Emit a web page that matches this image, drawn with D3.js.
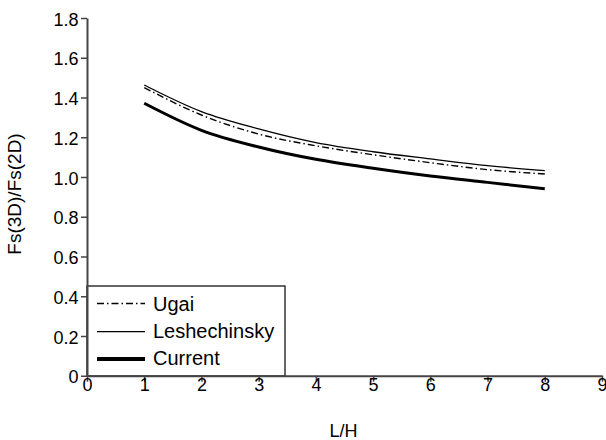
<!DOCTYPE html>
<html><head><meta charset="utf-8">
<script src="https://cdn.jsdelivr.net/npm/d3@7"></script>
<style>body{margin:0;background:#fff}svg{display:block}</style>
</head><body>
<svg id="c" width="606" height="440"></svg>
<script>
const xs = [1, 2, 3, 4, 5, 6, 7, 8];
const ugai = [1.450, 1.312, 1.216, 1.157, 1.112, 1.072, 1.037, 1.015];
const leshechinsky = [1.463, 1.329, 1.242, 1.173, 1.127, 1.091, 1.057, 1.032];
const current = [1.371, 1.235, 1.151, 1.089, 1.044, 1.005, 0.973, 0.941];
const xTicks = [0,1,2,3,4,5,6,7,8,9];
const yTicks = [0,0.2,0.4,0.6,0.8,1.0,1.2,1.4,1.6,1.8];
const seriesNames = ["Ugai","Leshechinsky","Current"];

const svg = d3.select("#c");
const font = "'Liberation Sans', Arial, sans-serif";
const x = d3.scaleLinear().domain([0,9]).range([87,602]);
const y = d3.scaleLinear().domain([0,1.8]).range([375.75,18]);

const styles = [
  {w:1.4, lw:1.4, dash:"7,3,1.5,3"},
  {w:1.3, lw:1.3, dash:null},
  {w:3, lw:4, dash:null}
];

const data = [ugai, leshechinsky, current];
const line = d3.line().x((d,i)=>x(xs[i])).y(d=>y(d)).curve(d3.curveMonotoneX);
data.forEach((s,k)=>{
  svg.append("path").attr("d", line(s)).attr("fill","none").attr("stroke","#000")
    .attr("stroke-width", styles[k].w).attr("stroke-dasharray", styles[k].dash);
});

// Legend
const lg = svg.append("g");
lg.append("rect").attr("x",87).attr("y",286).attr("width",198).attr("height",90)
  .attr("fill","#fff").attr("stroke","#000").attr("stroke-width",1.2);
const lineY = [303.5,331.7,359];
const textY = [310.7,338.3,365];
seriesNames.forEach((n,k)=>{
  lg.append("line").attr("x1",97).attr("x2",145).attr("y1",lineY[k]).attr("y2",lineY[k])
    .attr("stroke","#000").attr("stroke-width",styles[k].lw).attr("stroke-dasharray",styles[k].dash);
  lg.append("text").attr("x",153).attr("y",textY[k]).text(n)
    .attr("font-family",font).attr("font-size",20).attr("fill","#000");
});

// Axes
const xa = svg.append("g").attr("transform","translate(0,375.75)")
  .call(d3.axisBottom(x).tickValues(xTicks).tickSize(6).tickSizeOuter(0).tickFormat(d3.format("d")));
const ya = svg.append("g").attr("transform","translate(87,0)")
  .call(d3.axisLeft(y).tickValues(yTicks).tickSize(6).tickSizeOuter(0)
    .tickFormat(d=> d===0 ? "0" : d3.format(".1f")(d)));
[xa,ya].forEach(a=>{
  a.select(".domain").attr("stroke","#444").attr("stroke-width",2);
  a.selectAll(".tick line").attr("stroke","#444").attr("stroke-width",1.5);
  a.selectAll("text").attr("font-family",font).attr("font-size",18).attr("fill","#000");
});
xa.selectAll("text").attr("dy",null).attr("y",15.2);
ya.selectAll("text").attr("x",-8.5).attr("dy","0.4em");

svg.append("text").attr("x",343.5).attr("y",436.5).attr("text-anchor","middle")
  .attr("font-family",font).attr("font-size",18).text("L/H");
svg.append("text").attr("transform","translate(21,194) rotate(-90)").attr("text-anchor","middle")
  .attr("font-family",font).attr("font-size",19).text("Fs(3D)/Fs(2D)");
</script>
</body></html>
